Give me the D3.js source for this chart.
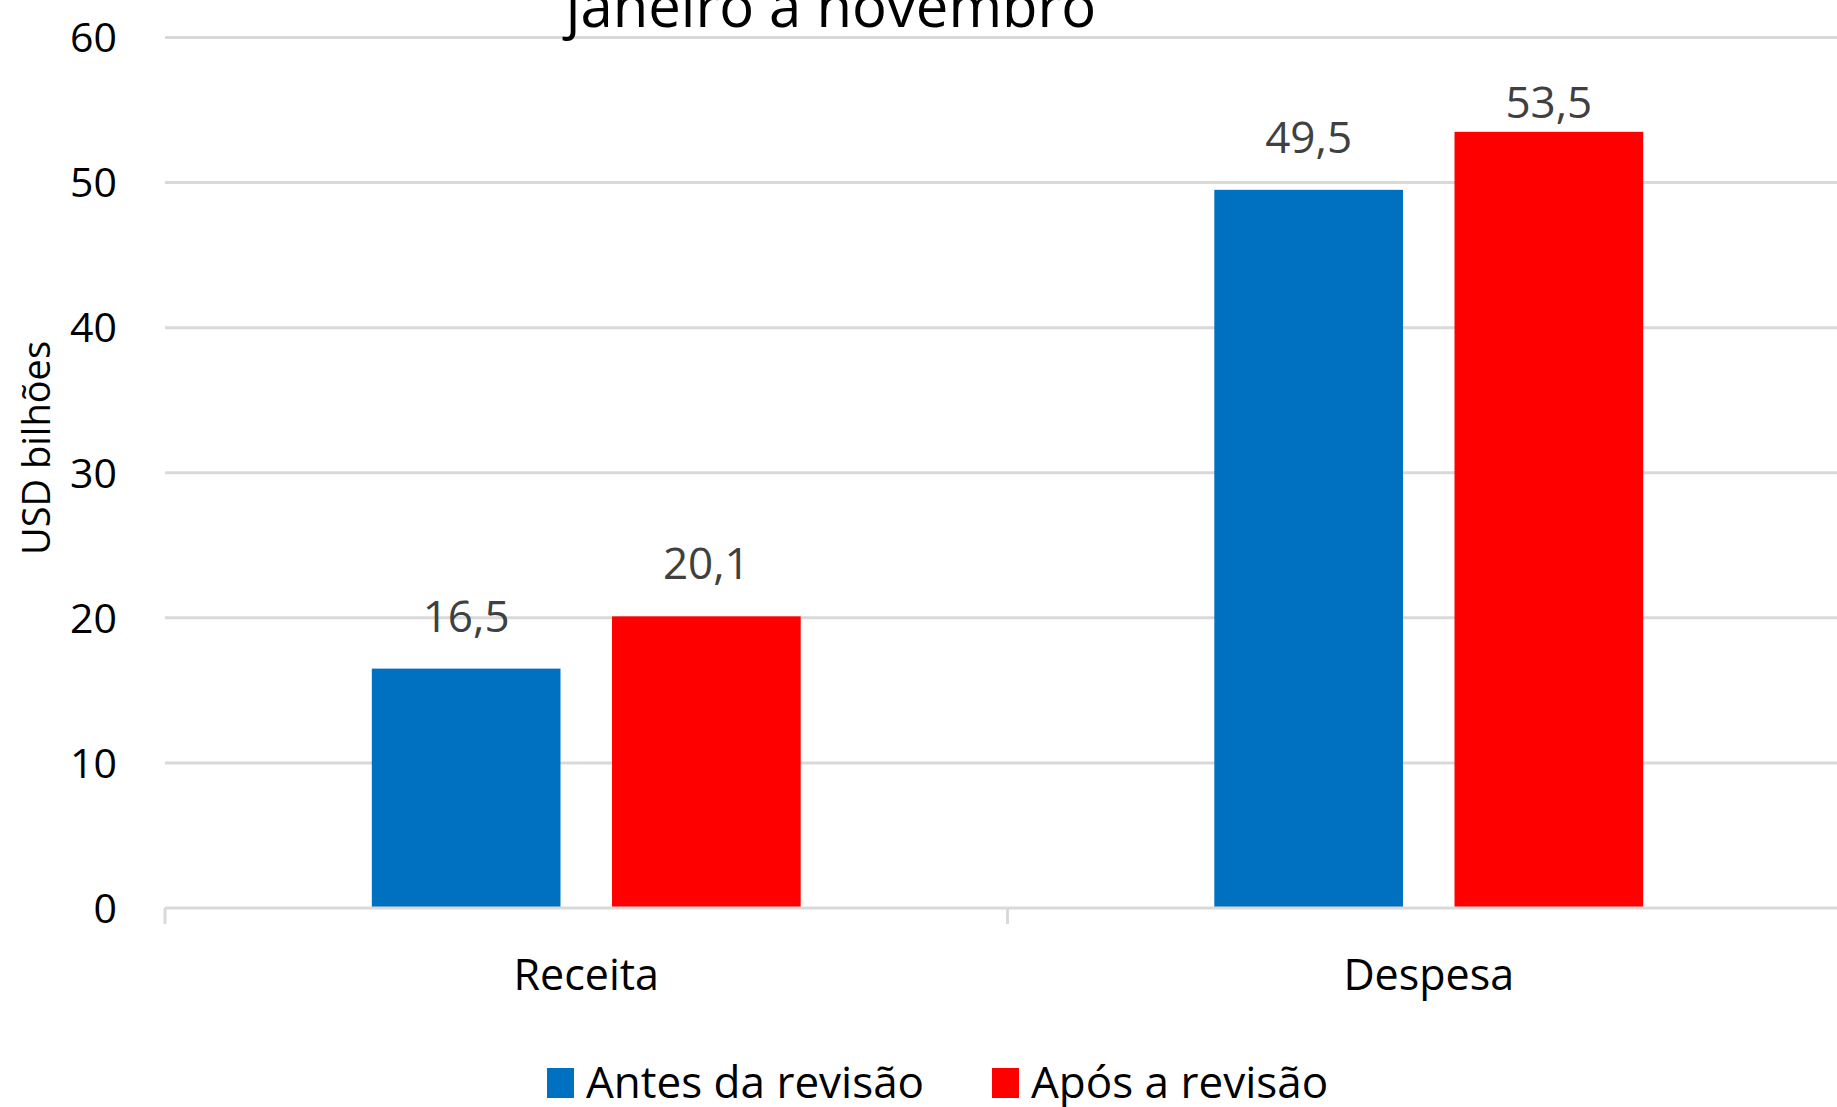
<!DOCTYPE html>
<html>
<head>
<meta charset="utf-8">
<script src="https://cdn.jsdelivr.net/npm/d3@7"></script>
<style>
  html, body { margin: 0; padding: 0; background: #fff; overflow: hidden; }
  svg { display: block; font-family: "Open Sans", "Noto Sans", sans-serif; }
</style>
</head>
<body>
<svg id="chart" width="1837" height="1107"></svg>
<script>
const categories = ['Receita', 'Despesa'];
const seriesNames = ['Antes da revisão', 'Após a revisão'];
const antes = [16.5, 49.5];
const apos = [20.1, 53.5];
const yTicks = [0, 10, 20, 30, 40, 50, 60];
const title = 'janeiro a novembro';
const yTitle = 'USD bilhões';

const colors = ['#0070C0', '#FF0000'];

const svg = d3.select('#chart');
const width = 1837, height = 1107;
const margin = { top: 37.5, left: 165, right: -13, bottom: 199 };
const innerW = width - margin.left - margin.right;
const innerH = height - margin.top - margin.bottom;

const rows = categories.map((c, i) => ({ cat: c, values: [antes[i], apos[i]] }));

const x0 = d3.scaleBand().domain(categories).range([0, innerW]);
const x1 = d3.scaleBand().domain(seriesNames)
  .range([0, x0.bandwidth()])
  .paddingInner(0.2145).paddingOuter(0.861);
const y = d3.scaleLinear().domain([0, 60]).range([innerH, 0]);

const g = svg.append('g').attr('transform', `translate(${margin.left},${margin.top})`);

// gridlines
g.append('g').selectAll('line')
  .data(yTicks.filter(t => t > 0))
  .join('line')
  .attr('x1', 0).attr('x2', innerW)
  .attr('y1', d => y(d)).attr('y2', d => y(d))
  .attr('stroke', '#D9D9D9').attr('stroke-width', 3);

// y tick labels
g.append('g').selectAll('text')
  .data(yTicks)
  .join('text')
  .attr('x', -48).attr('y', d => y(d))
  .attr('dy', '0.36em')
  .attr('text-anchor', 'end')
  .attr('font-size', 41)
  .attr('fill', '#000')
  .text(d => d);

// bars
const groups = g.append('g').selectAll('g')
  .data(rows)
  .join('g')
  .attr('transform', d => `translate(${x0(d.cat)},0)`);

groups.selectAll('rect')
  .data(d => d.values.map((v, i) => ({ name: seriesNames[i], v, i })))
  .join('rect')
  .attr('x', d => x1(d.name))
  .attr('y', d => y(d.v))
  .attr('width', x1.bandwidth())
  .attr('height', d => innerH - y(d.v))
  .attr('fill', d => colors[d.i]);

groups.selectAll('text')
  .data(d => d.values.map((v, i) => ({ name: seriesNames[i], v, i })))
  .join('text')
  .attr('x', d => x1(d.name) + x1.bandwidth() / 2)
  .attr('y', d => Math.max(y(d.v) - 37, 80))
  .attr('text-anchor', 'middle')
  .attr('font-size', 44)
  .attr('fill', '#404040')
  .text(d => d3.format('.1f')(d.v).replace('.', ','));

// x axis line + ticks
const axis = g.append('g').attr('transform', `translate(0,${innerH})`);
axis.append('line')
  .attr('x1', 0).attr('x2', innerW)
  .attr('stroke', '#D9D9D9').attr('stroke-width', 3);
axis.selectAll('line.tick')
  .data([0, ...categories.map(c => x0(c) + x0.bandwidth())])
  .join('line')
  .attr('class', 'tick')
  .attr('x1', d => d).attr('x2', d => d)
  .attr('y1', 0).attr('y2', 16)
  .attr('stroke', '#D9D9D9').attr('stroke-width', 3);
axis.selectAll('text')
  .data(categories)
  .join('text')
  .attr('x', d => x0(d) + x0.bandwidth() / 2)
  .attr('y', 82)
  .attr('text-anchor', 'middle')
  .attr('font-size', 43)
  .attr('fill', '#000')
  .text(d => d);

// y title
svg.append('text')
  .attr('transform', 'translate(50,448) rotate(-90)')
  .attr('text-anchor', 'middle')
  .attr('font-size', 38)
  .attr('fill', '#000')
  .text(yTitle);

// chart title (cut at the top)
svg.append('text')
  .attr('x', 831).attr('y', 27)
  .attr('text-anchor', 'middle')
  .attr('font-size', 58)
  .attr('fill', '#000')
  .text(title);

// legend
const legendX = [547, 992];
const legend = svg.append('g').selectAll('g')
  .data(seriesNames)
  .join('g')
  .attr('transform', (d, i) => `translate(${legendX[i]},1068)`);
legend.append('rect')
  .attr('width', 27).attr('height', 30)
  .attr('fill', (d, i) => colors[i]);
legend.append('text')
  .attr('x', 39).attr('y', 30)
  .attr('font-size', 44)
  .attr('fill', '#000')
  .text(d => d);
</script>
</body>
</html>
